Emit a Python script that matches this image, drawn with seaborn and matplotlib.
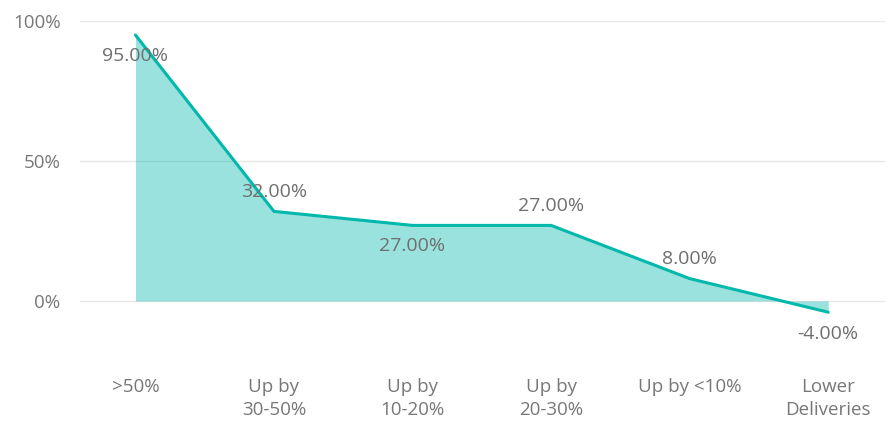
import matplotlib
matplotlib.use("Agg")
import matplotlib.pyplot as plt
import seaborn as sns
import pandas as pd

# données du graphique
categories = [">50%", "Up by\n30-50%", "Up by\n10-20%", "Up by\n20-30%", "Up by <10%", "Lower\nDeliveries"]
values = [95, 32, 27, 27, 8, -4]
labels = ["95.00%", "32.00%", "27.00%", "27.00%", "8.00%", "-4.00%"]
label_offsets = [-15, 14, -15, 14, 14, -16]  # au-dessus / au-dessous (points)

df = pd.DataFrame({"pos": range(len(categories)), "value": values})

sns.set_style("white")
plt.rcParams["font.family"] = ["Open Sans", "DejaVu Sans"]

teal = "#01B8AA"
grey = "#777777"

fig = plt.figure(figsize=(8.91, 4.26), dpi=100)
ax = fig.add_axes([80 / 891, 1 - 357 / 426, 805 / 891, 336 / 426])

ax.fill_between(df["pos"], df["value"], 0, color=teal, alpha=0.4, linewidth=0)
sns.lineplot(data=df, x="pos", y="value", color=teal, linewidth=2.2, ax=ax)

for x, y, txt, off in zip(df["pos"], values, labels, label_offsets):
    ax.annotate(txt, (x, y), xytext=(0, off), textcoords="offset points",
                ha="center", va="center", fontsize=14, color="#6f6f6f")

ax.set_xlim(-0.4, 5.41)
ax.set_ylim(-20, 100)
ax.set_yticks([0, 50, 100])
ax.set_yticklabels(["0%", "50%", "100%"])
ax.set_xticks(range(len(categories)))
ax.set_xticklabels(categories)
ax.yaxis.grid(True, color="#E8E8E8", linewidth=1)
ax.set_axisbelow(True)
ax.tick_params(axis="y", length=0, pad=14, labelsize=13.5, labelcolor=grey)
ax.tick_params(axis="x", length=0, pad=15, labelsize=13.5, labelcolor=grey)
for tl in ax.get_xticklabels():
    tl.set_linespacing(1.4)
ax.set_xlabel("")
ax.set_ylabel("")
sns.despine(ax=ax, left=True, bottom=True)

fig.savefig("out.png", dpi=100)
